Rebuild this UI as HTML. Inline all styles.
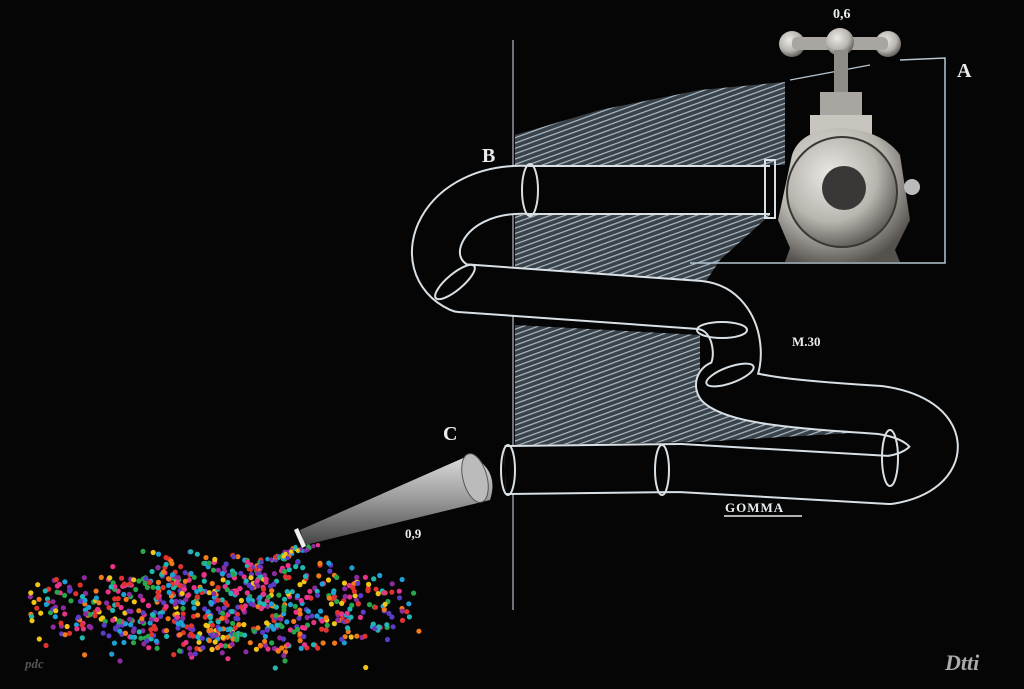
<!DOCTYPE html>
<html><head><meta charset="utf-8"><style>
html,body{margin:0;padding:0;background:#050505;}
svg{display:block}
text{font-family:"Liberation Serif",serif;font-weight:bold;fill:#e8ecee}
</style></head><body>
<svg id="s" width="1024" height="689" viewBox="0 0 1024 689">
<defs>
<pattern id="h" width="5" height="9" patternUnits="userSpaceOnUse" patternTransform="rotate(70)">
<rect width="5" height="9" fill="#3a4248"/>
<line x1="0" y1="0" x2="0" y2="9" stroke="#a9bccb" stroke-width="2.4"/>
</pattern>
<radialGradient id="m" cx="0.4" cy="0.35" r="0.7"><stop offset="0" stop-color="#eceae6"/><stop offset="0.6" stop-color="#b8b4ae"/><stop offset="1" stop-color="#55524e"/></radialGradient>
<linearGradient id="c" x1="0" y1="0" x2="0" y2="1"><stop offset="0" stop-color="#ddd"/><stop offset="0.5" stop-color="#999"/><stop offset="1" stop-color="#444"/></linearGradient>
</defs>
<rect width="1024" height="689" fill="#050505"/>
<path d="M515 135 L600 110 L700 90 L785 82 L785 165 L515 165 Z" fill="url(#h)"/>
<path d="M515 215 L770 215 L720 260 L700 290 L515 290 Z" fill="url(#h)"/>
<path d="M515 325 L700 335 L700 400 L880 405 L900 430 L700 442 L515 445 Z" fill="url(#h)"/>
<line x1="513" y1="40" x2="513" y2="610" stroke="#aab" stroke-width="1.3"/>
<path d="M900 60 L945 58 L945 263 L690 263" fill="none" stroke="#b6c6d2" stroke-width="1.5"/>
<path d="M870 65 L790 80" fill="none" stroke="#b6c6d2" stroke-width="1.2"/>
<g fill="none" stroke-linejoin="round" stroke-linecap="butt">
<path d="M770 190 L530 190 C440 185 410 265 460 288 L700 305 C745 310 745 380 720 385 C740 400 800 405 880 410 C950 420 950 470 890 480 L680 468 L505 470" stroke="#d8e0e6" stroke-width="50"/>
<path d="M770 190 L530 190 C440 185 410 265 460 288 L700 305 C745 310 745 380 720 385 C740 400 800 405 880 410 C950 420 950 470 890 480 L680 468 L505 470" stroke="#050505" stroke-width="46"/>
</g>
<g fill="none" stroke="#d8e0e6" stroke-width="2">
<ellipse cx="530" cy="190" rx="8" ry="26"/>
<ellipse cx="455" cy="282" rx="8" ry="25" transform="rotate(50 455 282)"/>
<ellipse cx="722" cy="330" rx="25" ry="8"/>
<ellipse cx="730" cy="375" rx="25" ry="8" transform="rotate(-20 730 375)"/>
<ellipse cx="890" cy="458" rx="8" ry="28"/>
<ellipse cx="662" cy="470" rx="7" ry="25"/>
<ellipse cx="508" cy="470" rx="7" ry="25"/>
<rect x="765" y="160" width="10" height="58"/>
</g>
<g>
<circle cx="792" cy="44" r="13" fill="url(#m)"/>
<circle cx="888" cy="44" r="13" fill="url(#m)"/>
<rect x="792" y="37" width="96" height="13" rx="5" fill="#a9a5a0"/>
<circle cx="840" cy="42" r="14" fill="url(#m)"/>
<rect x="834" y="50" width="14" height="45" fill="#8f8b86"/>
<rect x="820" y="92" width="42" height="25" fill="#a9a5a0"/>
<rect x="810" y="115" width="62" height="20" fill="#c8c4be"/>
<path d="M792 155 Q800 130 840 128 Q882 130 900 155 L910 220 L895 250 L900 262 L785 262 L790 248 L778 220 Z" fill="url(#m)"/>
<circle cx="842" cy="192" r="55" fill="url(#m)" stroke="#3a3835" stroke-width="2"/>
<circle cx="844" cy="188" r="22" fill="#3a3836"/>
<circle cx="912" cy="187" r="8" fill="#bbb"/>
</g>
<path d="M300 530 L470 455 Q500 470 490 500 L305 545 Z" fill="url(#c)"/>
<ellipse cx="475" cy="478" rx="12" ry="25" fill="#bbb" stroke="#555" transform="rotate(-15 475 478)"/>
<path d="M298 528 L306 546 L302 548 L294 530 Z" fill="#eee"/>
<g id="dots"></g>
<text x="833" y="18" font-size="14">0,6</text>
<text x="957" y="77" font-size="20">A</text>
<text x="482" y="162" font-size="20">B</text>
<text x="443" y="440" font-size="20">C</text>
<text x="792" y="346" font-size="13">M.30</text>
<text x="725" y="512" font-size="13" letter-spacing="1">GOMMA</text>
<line x1="724" y1="516" x2="802" y2="516" stroke="#e8ecee" stroke-width="1.5"/>
<text x="405" y="538" font-size="13">0,9</text>
<text x="25" y="668" font-size="13" font-style="italic" font-weight="normal" style="fill:#555">pdc</text>
<text x="945" y="670" font-size="22" font-style="italic" font-weight="normal" style="fill:#aaa">Dtti</text>
</svg>
<script>
var g=document.getElementById('dots'),s=12345;
function r(){s=(s*16807)%2147483647;return s/2147483647;}
var cols=['#e0332f','#f0c419','#1e9fd6','#8e2b9e','#e8358a','#2aa64a','#f07a1c','#5b3cc4','#21b7b0'];
var h='';
for(var i=0;i<1500;i++){
 var x=30+r()*400, y=550+r()*120;
 var cx=220, cy=605;
 var dx=(x-cx)/200, dy=(y-cy)/50;
 var d=dx*dx+dy*dy;
 if(d>1 && r()>0.08) continue;
 if(d>0.5 && r()>0.6) continue;
 if(y<575 && (x<150||x>330) && r()>0.2) continue;
 h+='<circle cx="'+x.toFixed(1)+'" cy="'+y.toFixed(1)+'" r="2.6" fill="'+cols[Math.floor(r()*cols.length)]+'"/>';
}
for(var j=0;j<60;j++){var t=r();h+='<circle cx="'+(300-t*60+r()*20).toFixed(1)+'" cy="'+(545+t*25).toFixed(1)+'" r="2.2" fill="'+cols[Math.floor(r()*cols.length)]+'"/>';}
g.innerHTML=h;
</script>
</body></html>
